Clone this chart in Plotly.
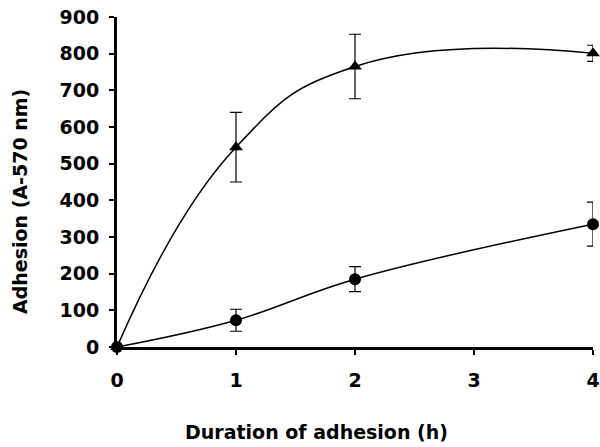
import plotly.graph_objects as go

hours = [0, 1, 2, 4]
triangle_vals = [0, 545, 765, 801]
triangle_err = [0, 95, 88, 22]
circle_vals = [0, 73, 185, 335]
circle_err = [0, 30, 34, 60]
x_ticks = [0, 1, 2, 3, 4]
y_ticks = [0, 100, 200, 300, 400, 500, 600, 700, 800, 900]

FONT = "DejaVu Sans"
W, H = 600, 447
L, R, T, B = 117, 7, 17, 100
pw = W - L - R
ph = H - T - B


def px_x(px):
    return (px - L) / pw


def px_y(py):
    return (H - py - B) / ph


fig = go.Figure()
fig.add_trace(go.Scatter(
    x=hours, y=triangle_vals, mode="lines+markers",
    line=dict(color="black", width=1.5, shape="spline", smoothing=1.3),
    marker=dict(symbol="triangle-up", size=12, color="black"),
    error_y=dict(type="data", array=triangle_err, color="black", thickness=1.2, width=6),
    cliponaxis=False, showlegend=False,
))
fig.add_trace(go.Scatter(
    x=hours, y=circle_vals, mode="lines+markers",
    line=dict(color="black", width=1.5, shape="spline", smoothing=1.1),
    marker=dict(symbol="circle", size=12, color="black"),
    error_y=dict(type="data", array=circle_err, color="black", thickness=1.2, width=6),
    cliponaxis=False, showlegend=False,
))

tickfont = dict(family=FONT, size=19, color="black", weight="bold")
titlefont = dict(family=FONT, size=19, color="black", weight="bold")

fig.update_layout(
    width=W, height=H,
    margin=dict(l=L, r=R, t=T, b=B, autoexpand=False),
    paper_bgcolor="white", plot_bgcolor="white",
    font=dict(family=FONT, color="black"),
    xaxis=dict(
        range=[0, 4], tickvals=x_ticks, ticktext=[str(v) for v in x_ticks],
        showgrid=False, zeroline=False, showline=True, linecolor="black", linewidth=3,
        ticks="outside", ticklen=5, tickwidth=2, tickcolor="black",
        tickfont=tickfont, ticklabelstandoff=9, automargin=False,
        ticklabeloverflow="allow",
    ),
    yaxis=dict(
        range=[0, 900], tickvals=y_ticks,
        showgrid=False, zeroline=False, showline=True, linecolor="black", linewidth=3,
        ticks="outside", ticklen=5, tickwidth=2, tickcolor="black",
        tickfont=tickfont, ticklabelstandoff=6, automargin=False,
        ticklabeloverflow="allow",
    ),
    annotations=[
        dict(text="Duration of adhesion (h)", x=px_x(316), y=px_y(432),
             xref="paper", yref="paper", xanchor="center", yanchor="middle",
             showarrow=False, font=titlefont),
        dict(text="Adhesion (A-570 nm)", x=px_x(20), y=px_y(202),
             xref="paper", yref="paper", xanchor="center", yanchor="middle",
             textangle=-90, showarrow=False, font=titlefont),
    ],
)

fig.write_html("out.html", config={"displayModeBar": False},
               post_script="document.body.style.margin='0';")
